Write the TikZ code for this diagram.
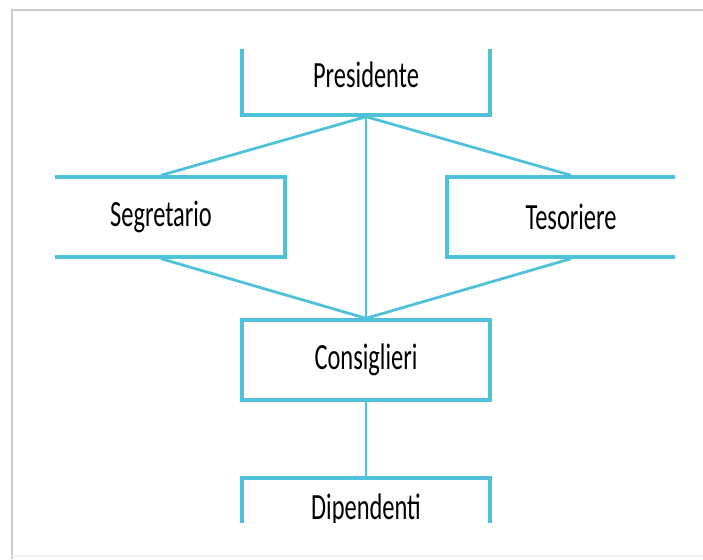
\documentclass[tikz,border=0pt]{standalone}
\usepackage{fontspec}
\newfontfamily\cali[FakeStretch=0.66]{Carlito}
\usetikzlibrary{positioning}

\definecolor{orgblue}{HTML}{4FC2DA}

\tikzset{
  carica/.style={draw=orgblue, line width=3.4pt, minimum width=248pt,
    minimum height=80pt, inner sep=0pt, font=\cali\fontsize{37}{40}\selectfont},
  nesso/.style={draw=orgblue, line width=2.8pt},
}

\begin{document}
\begin{tikzpicture}[x=1pt, y=-1pt]
  \useasboundingbox (0,0) rectangle (703,559);
  % cornice
  \draw[gray!40, line width=2.5pt] (703,10) -- (12,10) -- (12,559);
  \draw[gray!12, line width=2pt] (12,556) -- (703,556);

  \begin{scope}
    \clip (55,50) rectangle (675,522);
    \node[carica] (pres) at (366,75) {Presidente};
    \node[carica] (segr) at (161,217) {Segretario};
    \node[carica] (teso) at (571,217) {Tesoriere};
    \node[carica] (cons) at (366,360) {Consiglieri};
    \node[carica, minimum height=64pt] (dip) at (366,510) {Dipendenti};

    \draw[nesso] (pres.south) -- (segr.north);
    \draw[nesso] (pres.south) -- (teso.north);
    \draw[nesso] (pres.south) -- (cons.north);
    \draw[nesso] (segr.south) -- (cons.north);
    \draw[nesso] (teso.south) -- (cons.north);
    \draw[nesso] (cons.south) -- (dip.north);
  \end{scope}
\end{tikzpicture}
\end{document}
